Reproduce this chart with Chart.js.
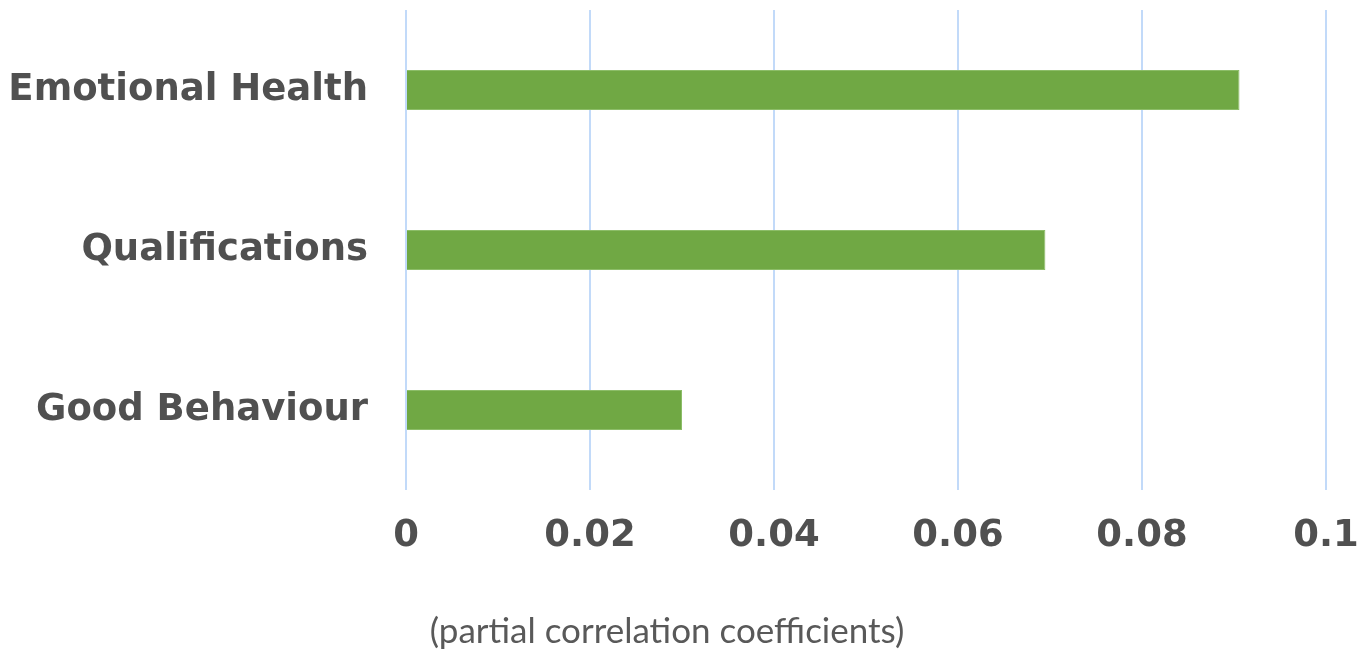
<!DOCTYPE html>
<html lang="en">
<head>
  <meta charset="UTF-8" />
  <title>Partial correlation coefficients</title>
  <script src="https://cdn.jsdelivr.net/npm/chart.js"></script>
  <style>
    body {
      margin: 0;
      background: #fff;
    }
    .wrap {
      width: 1360px;
      height: 650px;
    }
  </style>
</head>
<body>
  <div class="wrap">
    <canvas id="corrChart"></canvas>
  </div>

  <script>
    // Datos del gráfico
    const categories = ['Emotional Health', 'Qualifications', 'Good Behaviour'];
    const coefficients = [0.0906, 0.0695, 0.030];
    const xTickLabels = ['0', '0.02', '0.04', '0.06', '0.08', '0.1'];
    const axisTitle = '(partial correlation coefficients)';

    // caption under the axis, centred on the page rather than the plot area
    const captionPlugin = {
      id: 'caption',
      afterDraw(chart) {
        const ctx = chart.ctx;
        ctx.save();
        ctx.font = '35px Lato, "Open Sans", sans-serif';
        ctx.fillStyle = '#595959';
        ctx.textAlign = 'center';
        ctx.textBaseline = 'middle';
        ctx.fillText(axisTitle, chart.width / 2 - 13, chart.height - 18);
        ctx.restore();
      }
    };

    const tickFont = { family: '"DejaVu Sans", Verdana, sans-serif', size: 37, weight: 'bold' };

    const ctx = document.getElementById('corrChart').getContext('2d');
    new Chart(ctx, {
      type: 'bar',
      data: {
        labels: categories,
        datasets: [{
          data: coefficients,
          backgroundColor: '#70a844',
          borderColor: '#8cbd68',
          borderWidth: 1,
          barPercentage: 0.25,
          categoryPercentage: 1
        }]
      },
      options: {
        indexAxis: 'y',
        responsive: true,
        maintainAspectRatio: false,
        animation: false,
        layout: { padding: { top: 10, left: 0, right: 34, bottom: 0 } },
        plugins: {
          legend: { display: false },
          tooltip: { enabled: false }
        },
        scales: {
          x: {
            min: 0,
            max: 0.1,
            ticks: {
              stepSize: 0.02,
              padding: 24,
              maxRotation: 0,
              color: '#505050',
              font: tickFont,
              callback: (v, i) => xTickLabels[i]
            },
            grid: { color: '#c2daf9', lineWidth: 2, drawTicks: false },
            border: { display: false },
            afterFit: (scale) => {
              scale.height = 160;
              scale.paddingLeft = 0;
              scale.paddingRight = 0;
            }
          },
          y: {
            ticks: {
              padding: 38,
              color: '#505050',
              font: tickFont
            },
            grid: { display: false, drawTicks: false },
            border: { display: false },
            afterFit: (scale) => {
              scale.width = 406;
              scale.paddingTop = 0;
              scale.paddingBottom = 0;
            }
          }
        }
      },
      plugins: [captionPlugin]
    });
  </script>
</body>
</html>
